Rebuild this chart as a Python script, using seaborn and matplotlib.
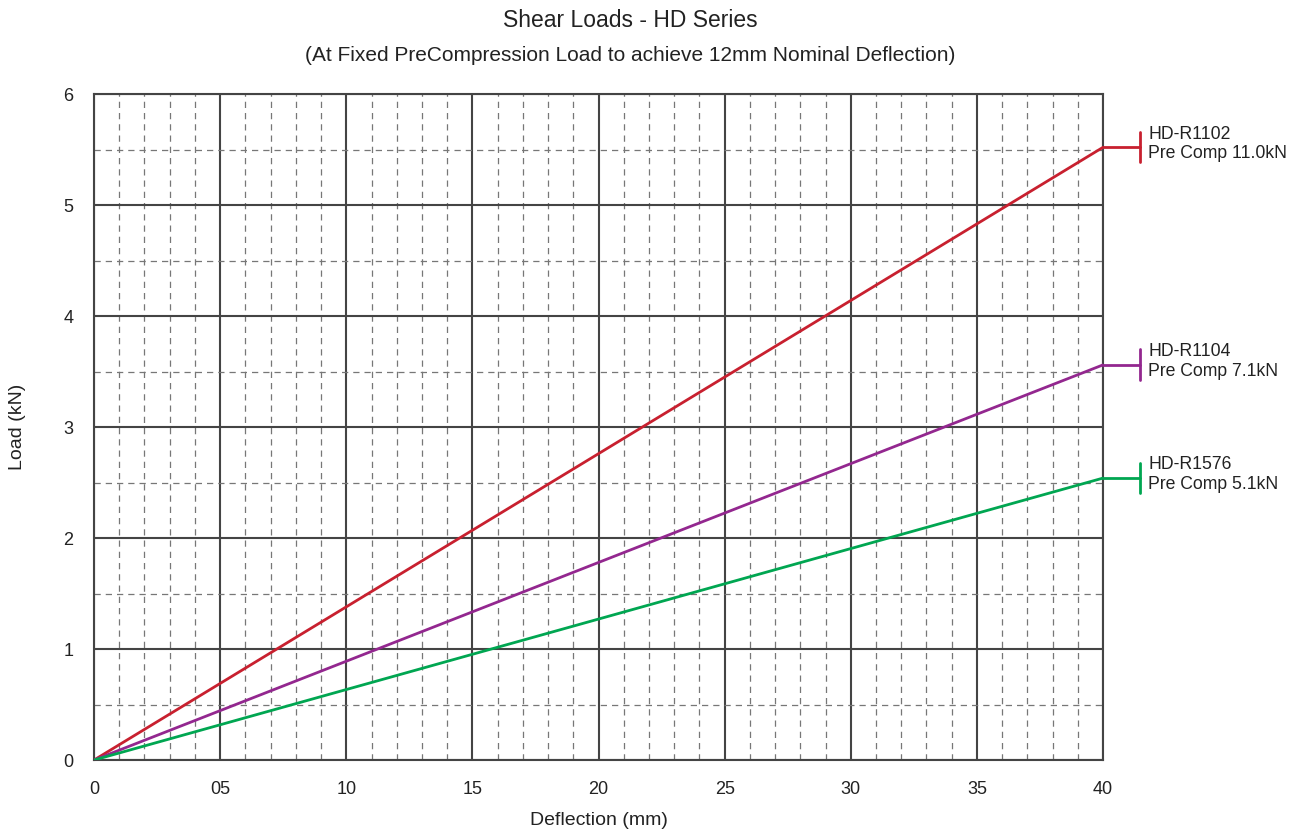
import numpy as np
import pandas as pd
import matplotlib
matplotlib.use("Agg")
import matplotlib.pyplot as plt
import seaborn as sns
from matplotlib.ticker import MultipleLocator

# data
deflection = [0, 40]
load_r1102 = [0, 5.52]
load_r1104 = [0, 3.56]
load_r1576 = [0, 2.54]
models = ["HD-R1102", "HD-R1104", "HD-R1576"]
precomp = ["Pre Comp 11.0kN", "Pre Comp 7.1kN", "Pre Comp 5.1kN"]
colors = ["#c8202f", "#93278f", "#00a651"]
x_ticks = [0, 5, 10, 15, 20, 25, 30, 35, 40]
x_labels = ["0", "05", "10", "15", "20", "25", "30", "35", "40"]
y_ticks = [0, 1, 2, 3, 4, 5, 6]

df = pd.DataFrame({
    "Deflection": deflection * 3,
    "Load": load_r1102 + load_r1104 + load_r1576,
    "Model": [m for m in models for _ in deflection],
})

sns.set_style("white")
plt.rcParams["font.family"] = ["Liberation Sans", "DejaVu Sans"]

fig = plt.figure(figsize=(13.06, 8.32), dpi=100)
ax = fig.add_axes([0.072, 0.0865, 0.7726, 0.8005])

sns.lineplot(data=df, x="Deflection", y="Load", hue="Model", palette=colors,
             linewidth=2, legend=False, ax=ax, zorder=3)

ax.set_xlim(0, 40)
ax.set_ylim(0, 6)
ax.set_xticks(x_ticks)
ax.set_xticklabels(x_labels)
ax.set_yticks(y_ticks)
ax.xaxis.set_minor_locator(MultipleLocator(1))
ax.yaxis.set_minor_locator(MultipleLocator(0.5))
ax.grid(which="major", color="#444444", linewidth=1.5, linestyle="-")
ax.grid(which="minor", color="#777777", linewidth=0.9, linestyle=(0, (5, 4)))
ax.set_axisbelow(True)

for side in ["left", "bottom", "top", "right"]:
    ax.spines[side].set_color("#444444")
    ax.spines[side].set_linewidth(1.5)

ax.tick_params(which="major", direction="out", length=6, width=1.5, color="#444444",
               labelsize=13, pad=9, labelcolor="#222222")
ax.tick_params(which="minor", direction="out", length=8, width=0.9, color="#777777")
ax.tick_params(axis="y", which="minor", length=0)

ax.set_xlabel("Deflection (mm)", fontsize=14, labelpad=10, color="#222222")
ax.set_ylabel("Load (kN)", fontsize=14, labelpad=27, color="#222222")

fig.text(0.4828, 0.975, "Shear Loads - HD Series", ha="center", va="center",
         fontsize=16.5, color="#222222")
fig.text(0.4828, 0.933, "(At Fixed PreCompression Load to achieve 12mm Nominal Deflection)",
         ha="center", va="center", fontsize=15, color="#222222")

# end labels with bracket markers
ends = [load_r1102[-1], load_r1104[-1], load_r1576[-1]]
for end, name, pc, c in zip(ends, models, precomp, colors):
    ax.plot([40, 41.45], [end, end], color=c, linewidth=2, clip_on=False, zorder=3)
    ax.plot([41.45, 41.45], [end - 0.135, end + 0.14], color=c, linewidth=2,
            clip_on=False, zorder=3)
    ax.text(41.8, end + 0.03, name + "\n" + pc, ha="left", va="center",
            fontsize=12.7, linespacing=1.2, color="#222222")

fig.savefig("out.png", dpi=100)
